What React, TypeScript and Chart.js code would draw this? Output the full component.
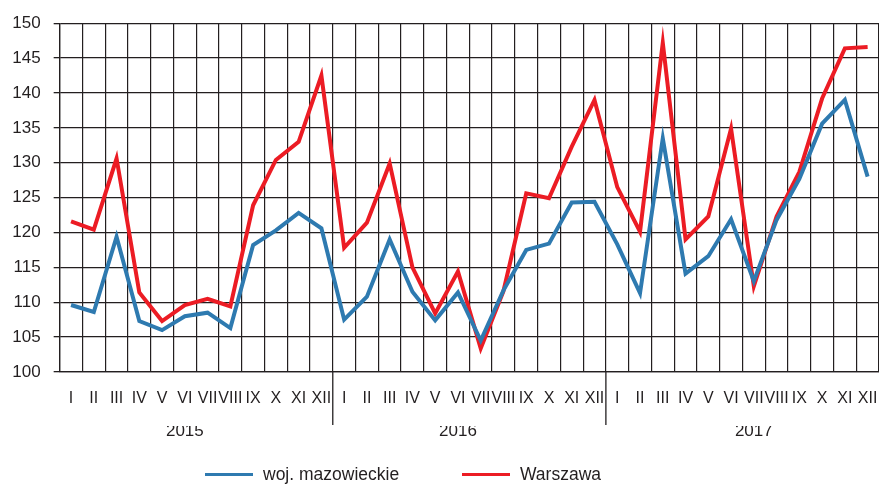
import React, { useEffect, useRef } from "react";
import { Chart, registerables } from "chart.js";

Chart.register(...registerables);

const months = ["I", "II", "III", "IV", "V", "VI", "VII", "VIII", "IX", "X", "XI", "XII"];
const years = ["2015", "2016", "2017"];
const yearLabelMonthIndex = [5, 5, 6];

const mazowieckie = [
  109.6, 108.6, 119.4, 107.3, 106.0, 108.0, 108.5, 106.3, 118.2, 120.3, 122.8, 120.6,
  107.5, 110.8, 119.0, 111.5, 107.4, 111.4, 104.5, 111.7, 117.5, 118.4, 124.3, 124.4,
  118.3, 111.3, 133.5, 114.1, 116.6, 121.9, 113.0, 121.8, 127.7, 135.6, 139.0, 128.0,
];
const warszawa = [
  121.6, 120.4, 130.6, 111.4, 107.3, 109.6, 110.5, 109.4, 123.9, 130.4, 133.0, 142.5,
  117.8, 121.4, 129.9, 115.0, 108.4, 114.4, 103.4, 111.6, 125.6, 124.9, 132.3, 139.0,
  126.5, 120.1, 147.2, 119.0, 122.3, 134.9, 112.3, 122.3, 128.7, 139.2, 146.4, 146.6,
];

const seriesNames = ["woj. mazowieckie", "Warszawa"];
const seriesColors = ["#2e7ab0", "#ec1c24"];

const yMin = 100;
const yMax = 150;
const yStep = 5;

const W = 879;
const H = 484;
const INK = "#231f20";
const FONT = '"Liberation Sans", Arial, sans-serif';

const categories = years.flatMap((y) => months.map((m) => `${m} ${y}`));
const yearAxisLabels = years.flatMap((y, yi) =>
  months.map((_, mi) => (mi === yearLabelMonthIndex[yi] ? y : ""))
);

const yearSeparators = {
  id: "yearSeparators",
  afterDraw(chart: any) {
    const x = chart.scales.x;
    const { ctx, chartArea } = chart;
    ctx.save();
    ctx.strokeStyle = INK;
    ctx.lineWidth = 1.3;
    for (let yi = 1; yi < years.length; yi++) {
      const i = yi * months.length;
      const px = (x.getPixelForValue(i - 1) + x.getPixelForValue(i)) / 2;
      ctx.beginPath();
      ctx.moveTo(px, chartArea.bottom);
      ctx.lineTo(px, chartArea.bottom + 53);
      ctx.stroke();
    }
    ctx.restore();
  },
};

export default function App() {
  const ref = useRef<HTMLCanvasElement | null>(null);

  useEffect(() => {
    if (!ref.current) return;
    const chart = new Chart(ref.current, {
      type: "line",
      data: {
        labels: categories,
        datasets: [
          {
            label: seriesNames[0],
            data: mazowieckie,
            borderColor: seriesColors[0],
            backgroundColor: seriesColors[0],
            borderWidth: 4,
            pointRadius: 0,
            tension: 0,
          },
          {
            label: seriesNames[1],
            data: warszawa,
            borderColor: seriesColors[1],
            backgroundColor: seriesColors[1],
            borderWidth: 4,
            pointRadius: 0,
            tension: 0,
          },
        ],
      },
      options: {
        responsive: false,
        animation: false,
        layout: { padding: { left: -0.7, top: 23, right: -1, bottom: 48 } },
        plugins: { legend: { display: false }, tooltip: { enabled: false } },
        scales: {
          x: {
            type: "category",
            position: "bottom",
            weight: 0,
            offset: true,
            grid: { offset: true, drawTicks: false, color: INK, lineWidth: 1.2 },
            border: { display: true, color: INK, width: 1.3 },
            ticks: {
              autoSkip: false,
              maxRotation: 0,
              minRotation: 0,
              padding: 0,
              color: INK,
              font: { family: FONT, size: 16, lineHeight: "54px" },
              callback: (_v: any, i: number) => months[i % months.length],
            },
          },
          x2: {
            type: "category",
            position: "bottom",
            weight: 1,
            labels: yearAxisLabels,
            offset: true,
            grid: { display: false, drawTicks: false },
            border: { display: false },
            ticks: {
              autoSkip: false,
              maxRotation: 0,
              minRotation: 0,
              padding: 0,
              color: INK,
              font: { family: FONT, size: 17, lineHeight: "10px" },
            },
          },
          y: {
            min: yMin,
            max: yMax,
            grid: { color: INK, lineWidth: 1.3, tickLength: 6, tickColor: INK },
            border: { display: true, color: INK, width: 1.3 },
            ticks: {
              stepSize: yStep,
              padding: 13,
              color: INK,
              font: { family: FONT, size: 17 },
            },
          },
        },
      },
      plugins: [yearSeparators],
    });
    return () => chart.destroy();
  }, []);

  const legendX = [205, 462];
  return (
    <div style={{ position: "absolute", left: 0, top: 0, width: W, height: H, background: "#fff" }}>
      <canvas ref={ref} width={W} height={H} style={{ display: "block" }} />
      {seriesNames.map((name, i) => (
        <div
          key={name}
          style={{
            position: "absolute",
            left: legendX[i],
            top: 464,
            height: 20,
            display: "flex",
            alignItems: "center",
            font: `17.5px ${FONT}`,
            color: INK,
            whiteSpace: "nowrap",
          }}
        >
          <span
            style={{
              display: "inline-block",
              width: 48,
              height: 3,
              background: seriesColors[i],
              marginRight: 10,
            }}
          />
          {name}
        </div>
      ))}
    </div>
  );
}
